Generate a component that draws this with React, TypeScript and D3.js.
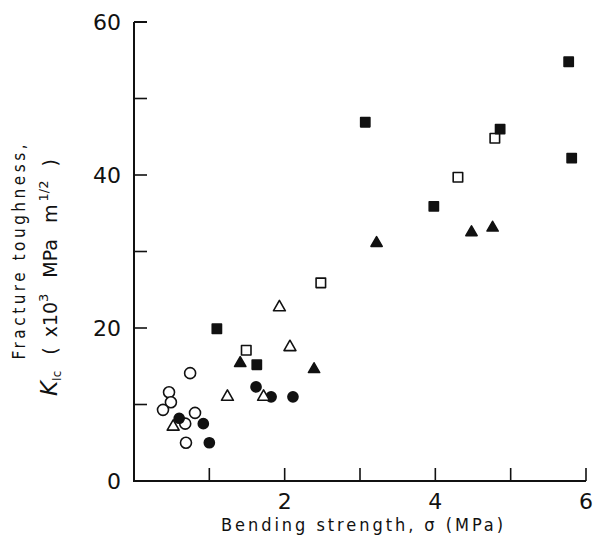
import React, { useRef, useEffect } from "react";
import * as d3 from "d3";

// bending strength (MPa) / fracture toughness (x10^3 MPa m^1/2)
const filledSquareX = [1.1, 1.63, 3.07, 3.98, 4.86, 5.77, 5.81];
const filledSquareY = [19.9, 15.2, 46.9, 35.9, 46.0, 54.8, 42.2];
const openSquareX = [1.49, 2.48, 4.3, 4.79];
const openSquareY = [17.1, 25.9, 39.7, 44.8];
const filledTriX = [1.41, 2.39, 3.22, 4.48, 4.76];
const filledTriY = [15.4, 14.6, 31.1, 32.5, 33.1];
const openTriX = [1.93, 2.07, 1.24, 1.72, 0.52];
const openTriY = [22.7, 17.5, 11.0, 11.0, 7.1];
const filledCircleX = [1.62, 1.82, 2.11, 0.6, 0.92, 1.0];
const filledCircleY = [12.3, 11.0, 11.0, 8.2, 7.5, 5.0];
const openCircleX = [0.745, 0.465, 0.49, 0.385, 0.81, 0.68, 0.69];
const openCircleY = [14.1, 11.6, 10.3, 9.3, 8.9, 7.5, 5.0];

const xTicks = [0, 1, 2, 3, 4, 5, 6];
const xTickLabels = [2, 4, 6];
const yTicks = [0, 10, 20, 30, 40, 50, 60];
const yTickLabels = [0, 20, 40, 60];

const App = () => {
    const svgRef = useRef(null);

    useEffect(() => {
        const svg = d3.select(svgRef.current);
        svg.selectAll("*").remove();

        const x = d3.scaleLinear().domain([0, 6]).range([134, 586]);
        const y = d3.scaleLinear().domain([0, 60]).range([481, 22]);
        const tick = 13;

        // axes frame
        svg.append("path")
            .attr("d", `M${x(0)},${y(60)}H${x(0) + tick}M${x(0)},${y(60)}V${y(0)}H${x(6)}`)
            .attr("fill", "none")
            .attr("stroke", "#111")
            .attr("stroke-width", 2);

        svg.append("g").selectAll("line")
            .data(yTicks.slice(1, -1))
            .enter().append("line")
            .attr("x1", x(0)).attr("x2", x(0) + tick)
            .attr("y1", d => y(d)).attr("y2", d => y(d))
            .attr("stroke", "#111").attr("stroke-width", 1.6);

        svg.append("g").selectAll("line")
            .data(xTicks.slice(1))
            .enter().append("line")
            .attr("x1", d => x(d)).attr("x2", d => x(d))
            .attr("y1", y(0)).attr("y2", y(0) - tick)
            .attr("stroke", "#111").attr("stroke-width", 1.6);

        const tickFont = "'DejaVu Sans', sans-serif";
        svg.append("g").selectAll("text")
            .data(yTickLabels)
            .enter().append("text")
            .attr("x", 121).attr("y", d => y(d) + 8)
            .attr("text-anchor", "end")
            .attr("font-family", tickFont).attr("font-size", 22)
            .attr("fill", "#111")
            .text(d => d);

        svg.append("g").selectAll("text")
            .data(xTickLabels)
            .enter().append("text")
            .attr("x", d => x(d)).attr("y", 509)
            .attr("text-anchor", "middle")
            .attr("font-family", tickFont).attr("font-size", 22)
            .attr("fill", "#111")
            .text(d => d);

        // titles
        const labelFont = "'DejaVu Sans Condensed', 'DejaVu Sans', sans-serif";
        svg.append("text")
            .attr("x", 362).attr("y", 531)
            .attr("text-anchor", "middle")
            .attr("font-family", labelFont).attr("font-size", 18)
            .attr("textLength", 282).attr("lengthAdjust", "spacing")
            .attr("fill", "#111")
            .text("Bending strength, σ (MPa)");

        svg.append("text")
            .attr("transform", "translate(25,252) rotate(-90)")
            .attr("text-anchor", "middle")
            .attr("font-family", labelFont).attr("font-size", 17)
            .attr("textLength", 215).attr("lengthAdjust", "spacing")
            .attr("fill", "#111")
            .text("Fracture toughness,");

        const k = svg.append("text")
            .attr("transform", "translate(57,396) rotate(-90)")
            .attr("font-family", "'DejaVu Sans', sans-serif").attr("font-size", 19)
            .attr("fill", "#111");
        k.append("tspan").attr("font-style", "italic").attr("font-size", 23).text("K");
        k.append("tspan").attr("font-size", 12).attr("dy", 4).text("Ic");
        k.append("tspan").attr("dy", -4).attr("dx", 16).text("(");
        k.append("tspan").attr("dx", 10).text("x10");
        k.append("tspan").attr("font-size", 13).attr("dy", -9).text("3");
        k.append("tspan").attr("dy", 9).attr("dx", 16).text("MPa");
        k.append("tspan").attr("dx", 16).text("m");
        k.append("tspan").attr("font-size", 13).attr("dy", -9).attr("dx", 3).text("1/2");
        k.append("tspan").attr("dy", 9).attr("dx", 14).text(")");

        // markers
        const series = [
            { xs: openCircleX, ys: openCircleY, type: d3.symbolCircle, size: 95, filled: false },
            { xs: filledCircleX, ys: filledCircleY, type: d3.symbolCircle, size: 80, filled: true },
            { xs: openTriX, ys: openTriY, type: d3.symbolTriangle, size: 62, filled: false },
            { xs: filledTriX, ys: filledTriY, type: d3.symbolTriangle, size: 55, filled: true },
            { xs: openSquareX, ys: openSquareY, type: d3.symbolSquare, size: 90, filled: false },
            { xs: filledSquareX, ys: filledSquareY, type: d3.symbolSquare, size: 85, filled: true },
        ];

        series.forEach(s => {
            svg.append("g").selectAll("path")
                .data(s.xs.map((v, i) => [v, s.ys[i]]))
                .enter().append("path")
                .attr("transform", d => `translate(${x(d[0])},${y(d[1])})`)
                .attr("d", d3.symbol().type(s.type).size(s.size)())
                .attr("fill", s.filled ? "#111" : "#fff")
                .attr("stroke", "#111")
                .attr("stroke-width", 1.6)
                .attr("stroke-linejoin", "round");
        });
    }, []);

    return (
        <div>
            <svg ref={svgRef} width={594} height={544}
                style={{ position: "absolute", left: 0, top: 0, background: "#fff" }}></svg>
        </div>
    );
};

export default App;
